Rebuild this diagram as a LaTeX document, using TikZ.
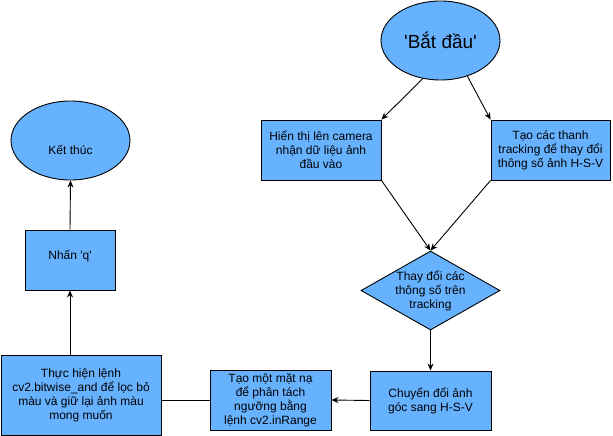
\documentclass[tikz,border=0pt]{standalone}
\usepackage{fontspec}
\setmainfont{Liberation Sans}[Ligatures=TeXOff]
\usetikzlibrary{arrows.meta,shapes.geometric}
\definecolor{boxblue}{HTML}{66B2FF}

\begin{document}
\begin{tikzpicture}[x=1pt, y=-1pt,
		every node/.style={font=\fontsize{12}{14}\selectfont, align=center, inner sep=0pt, draw=black, line width=0.9pt, fill=boxblue},
		box/.style={rectangle, minimum width=120pt, minimum height=60pt},
		oval/.style={ellipse, minimum width=119pt, minimum height=79pt},
		choice/.style={diamond, minimum width=139pt, minimum height=79pt, aspect=1.76, inner sep=-3pt},
		flow/.style={line width=0.9pt, -{Stealth[length=7pt,width=6pt]}}]
		%%%%% START %%%%%
		\useasboundingbox (0,0) rectangle (613,436);
		
		\node[oval, font=\fontsize{19}{22}\selectfont] (start) at (440.5,40.5) {'Bắt đầu'};
		\node[box] (hien) at (321,150) {Hiển thị lên camera\\nhận dữ liệu ảnh\\đầu vào};
		\node[box, minimum width=119pt] (thanh) at (550.5,150) {Tạo các thanh\\tracking để thay đổi\\thông số ảnh H-S-V};
		\node[choice] (thay) at (430.5,290.5) {Thay đổi các\\thông số trên\\tracking};
		\node[box, minimum width=121pt, minimum height=59pt] (chuyen) at (430.5,400.5) {Chuyển đổi ảnh\\góc sang H-S-V};
		\node[box, minimum width=121pt] (matna) at (270.5,400) {Tạo một mặt nạ\\để phân tách\\ngưỡng bằng\\lệnh cv2.inRange};
		\node[box, minimum width=160pt, minimum height=80pt] (thuc) at (81,395) {Thực hiện lệnh\\cv2.bitwise\_and để lọc bỏ\\màu và giữ lại ảnh màu\\mong muốn};
		\node[box, minimum width=90pt] (nhan) at (70,260) {\raisebox{0.7pt}[0pt][0pt]{Nhấn 'q'}};
		\node[oval] (ket) at (70.5,140.5) {\raisebox{-13.5pt}[0pt][0pt]{Kết thúc}};
		
		\draw[flow] (start.245) -- (hien.north east);
		\draw[flow] (start.307) -- (thanh.north west);
		\draw[flow] (hien.south east) -- (thay.north);
		\draw[flow] (thanh.south west) -- (thay.north);
		\draw[flow] (thay.south) -- (chuyen.north);
		\draw[flow] (chuyen.west) -- (matna.east);
		\draw[line width=0.9pt] (matna.west) -- (matna.west -| thuc.east);
		\draw[flow] (nhan.south |- thuc.north) -- (nhan.south);
		\draw[flow] (nhan.north) -- (ket.south);
		%%%%% END %%%%%
	\end{tikzpicture}
\end{document}
